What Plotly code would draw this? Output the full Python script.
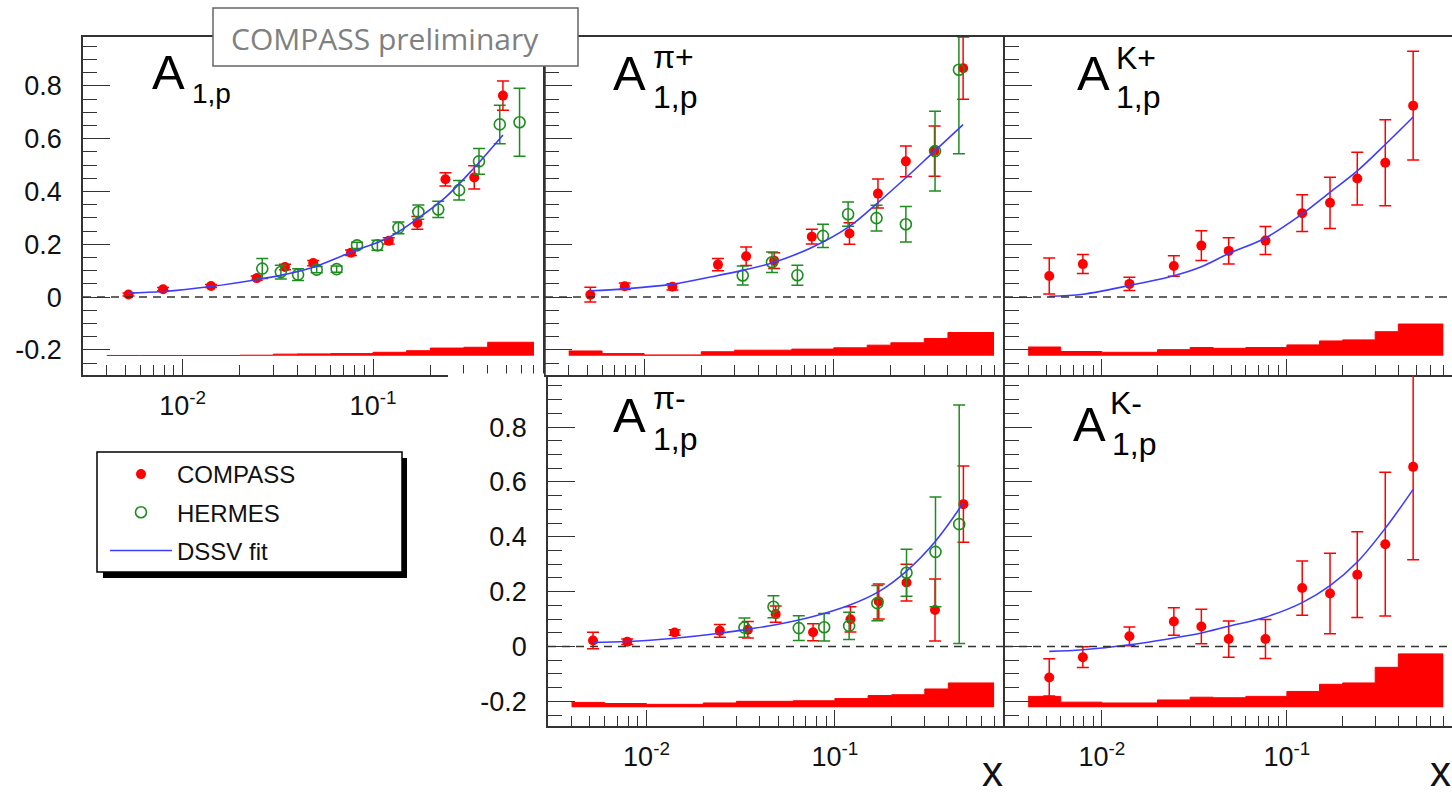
import plotly.graph_objects as go

# ---------------- data ----------------
compass_x = [0.0052, 0.0079, 0.0141, 0.0245, 0.0345, 0.0485, 0.0766, 0.121, 0.171, 0.240, 0.340, 0.481]
syst_edges = [0.004, 0.006, 0.01, 0.02, 0.03, 0.04, 0.06, 0.1, 0.15, 0.2, 0.3, 0.4, 0.7]
syst_base = -0.222

hermes_x_incl = [0.0262, 0.0328, 0.0404, 0.0506, 0.0644, 0.0824, 0.1054, 0.136, 0.173, 0.220, 0.283, 0.360, 0.463, 0.588]
hermes_x_semi = [0.0331, 0.0472, 0.0643, 0.0877, 0.119, 0.168, 0.240, 0.342, 0.457]

# A1,p
a1p_compass_y = [0.010, 0.030, 0.042, 0.072, 0.114, 0.129, 0.168, 0.213, 0.281, 0.446, 0.453, 0.763]
a1p_compass_err = [0.006, 0.006, 0.006, 0.008, 0.010, 0.010, 0.010, 0.012, 0.024, 0.025, 0.044, 0.055]
a1p_hermes_y = [0.108, 0.095, 0.085, 0.104, 0.106, 0.196, 0.196, 0.262, 0.322, 0.332, 0.405, 0.514, 0.654, 0.662]
a1p_hermes_err = [0.038, 0.026, 0.022, 0.012, 0.012, 0.012, 0.019, 0.022, 0.027, 0.031, 0.037, 0.049, 0.073, 0.129]
a1p_dssv = [0.015, 0.021, 0.040, 0.066, 0.086, 0.113, 0.170, 0.226, 0.297, 0.378, 0.490, 0.614]
a1p_syst = [-0.221, -0.221, -0.221, -0.220, -0.216, -0.215, -0.214, -0.209, -0.203, -0.193, -0.190, -0.171]

# A1,p pi+
pip_compass_y = [0.009, 0.041, 0.039, 0.123, 0.155, 0.138, 0.229, 0.241, 0.392, 0.514, 0.553, 0.867]
pip_compass_err = [0.028, 0.012, 0.012, 0.023, 0.035, 0.030, 0.028, 0.041, 0.055, 0.058, 0.095, 0.118]
pip_hermes_y = [0.082, 0.132, 0.083, 0.232, 0.314, 0.299, 0.276, 0.553, 0.861]
pip_hermes_err = [0.036, 0.039, 0.038, 0.044, 0.046, 0.049, 0.067, 0.151, 0.318]
pip_dssv = [0.024, 0.031, 0.049, 0.082, 0.104, 0.132, 0.188, 0.268, 0.358, 0.452, 0.553, 0.653]
pip_syst = [-0.204, -0.214, -0.219, -0.207, -0.201, -0.201, -0.197, -0.192, -0.182, -0.173, -0.157, -0.134]

# A1,p K+
kp_compass_y = [0.080, 0.125, 0.050, 0.118, 0.195, 0.175, 0.214, 0.318, 0.357, 0.449, 0.509, 0.725]
kp_compass_err = [0.068, 0.036, 0.025, 0.039, 0.056, 0.050, 0.053, 0.070, 0.097, 0.100, 0.163, 0.206]
kp_dssv = [0.003, 0.011, 0.044, 0.081, 0.115, 0.165, 0.224, 0.315, 0.397, 0.478, 0.578, 0.682]
kp_syst = [-0.189, -0.206, -0.209, -0.199, -0.191, -0.194, -0.191, -0.181, -0.166, -0.162, -0.131, -0.102]

# A1,p pi-
pim_compass_y = [0.022, 0.017, 0.051, 0.057, 0.061, 0.118, 0.052, 0.099, 0.164, 0.233, 0.133, 0.519]
pim_compass_err = [0.030, 0.010, 0.010, 0.023, 0.030, 0.030, 0.031, 0.046, 0.064, 0.067, 0.113, 0.139]
pim_hermes_y = [0.069, 0.145, 0.067, 0.070, 0.075, 0.158, 0.269, 0.345, 0.446]
pim_hermes_err = [0.035, 0.040, 0.045, 0.050, 0.050, 0.064, 0.086, 0.200, 0.435]
pim_dssv = [0.015, 0.018, 0.030, 0.048, 0.063, 0.079, 0.109, 0.152, 0.200, 0.275, 0.382, 0.524]
pim_syst = [-0.204, -0.208, -0.211, -0.206, -0.200, -0.200, -0.198, -0.190, -0.179, -0.176, -0.155, -0.133]

# A1,p K-
km_compass_y = [-0.113, -0.039, 0.037, 0.091, 0.073, 0.027, 0.027, 0.213, 0.193, 0.262, 0.373, 0.655]
km_compass_err = [0.068, 0.038, 0.034, 0.050, 0.063, 0.066, 0.071, 0.099, 0.147, 0.156, 0.262, 0.339]
km_dssv = [-0.018, -0.012, 0.006, 0.031, 0.049, 0.074, 0.107, 0.160, 0.222, 0.308, 0.431, 0.573]
km_syst = [-0.182, -0.203, -0.206, -0.195, -0.185, -0.187, -0.182, -0.164, -0.138, -0.133, -0.076, -0.027]

ytick_vals = [-0.2, 0, 0.2, 0.4, 0.6, 0.8]
ytick_text = ["-0.2", "0", "0.2", "0.4", "0.6", "0.8"]
xtick_vals = [0.01, 0.1]
xtick_text = ["10<sup>-2</sup>", "10<sup>-1</sup>"]
xminor_vals = [0.004, 0.005, 0.006, 0.007, 0.008, 0.009,
               0.02, 0.03, 0.04, 0.05, 0.06, 0.07, 0.08, 0.09,
               0.2, 0.3, 0.4, 0.5, 0.6, 0.7]

# ---------------- layout helpers ----------------
W, H = 1452, 797
def fx(p):
    return p / W
def fy(p):
    return 1 - p / H

RED = "#ff0000"
GREEN = "#1f8c1f"
BLUE = "rgb(60,60,255)"
FRAME = "#333333"
FONT = "Liberation Sans, Arial, sans-serif"

panels = [
    dict(ax="", xd=(83, 545), yd=(37, 375), xr=(-2.523, -0.097), yr=(-0.295, 0.985),
         cy=a1p_compass_y, ce=a1p_compass_err, hx=hermes_x_incl, hy=a1p_hermes_y, he=a1p_hermes_err,
         d=a1p_dssv, s=a1p_syst, xl=True, yl=True, top=True),
    dict(ax="2", xd=(545, 1005), yd=(37, 375), xr=(-2.523, -0.097), yr=(-0.295, 0.985),
         cy=pip_compass_y, ce=pip_compass_err, hx=hermes_x_semi, hy=pip_hermes_y, he=pip_hermes_err,
         d=pip_dssv, s=pip_syst, xl=False, yl=False, top=True),
    dict(ax="3", xd=(1005, 1452), yd=(37, 375), xr=(-2.523, -0.108), yr=(-0.295, 0.985),
         cy=kp_compass_y, ce=kp_compass_err, hx=None, hy=None, he=None,
         d=kp_dssv, s=kp_syst, xl=False, yl=False, top=True),
    dict(ax="4", xd=(548, 1005), yd=(375, 726), xr=(-2.523, -0.097), yr=(-0.29, 0.99),
         cy=pim_compass_y, ce=pim_compass_err, hx=hermes_x_semi, hy=pim_hermes_y, he=pim_hermes_err,
         d=pim_dssv, s=pim_syst, xl=True, yl=True, top=False),
    dict(ax="5", xd=(1005, 1452), yd=(375, 726), xr=(-2.523, -0.108), yr=(-0.29, 0.99),
         cy=km_compass_y, ce=km_compass_err, hx=None, hy=None, he=None,
         d=km_dssv, s=km_syst, xl=True, yl=False, top=False),
]

fig = go.Figure()
shapes = []
annotations = []
layout = {}

for i, p in enumerate(panels):
    a = p["ax"]
    xa, ya = "x" + a, "y" + a
    first = (i == 0)
    # systematic band: base + step top
    fig.add_trace(go.Scatter(x=[syst_edges[0], syst_edges[-1]], y=[syst_base, syst_base],
                             mode="lines", line=dict(width=0, color=RED), showlegend=False,
                             hoverinfo="skip", xaxis=xa, yaxis=ya))
    fig.add_trace(go.Scatter(x=syst_edges, y=p["s"] + [p["s"][-1]], mode="lines",
                             line=dict(width=1, color=RED, shape="hv"), fill="tonexty",
                             fillcolor=RED, showlegend=False, hoverinfo="skip", xaxis=xa, yaxis=ya))
    # COMPASS
    fig.add_trace(go.Scatter(x=compass_x, y=p["cy"], mode="markers", name="COMPASS",
                             marker=dict(color=RED, size=10, symbol="circle"),
                             error_y=dict(type="data", array=p["ce"], color=RED, thickness=1.5, width=6),
                             showlegend=first, legendgroup="compass", legendrank=1,
                             xaxis=xa, yaxis=ya))
    # HERMES
    if p["hx"] is not None:
        fig.add_trace(go.Scatter(x=p["hx"], y=p["hy"], mode="markers", name="HERMES",
                                 marker=dict(color=GREEN, size=11, symbol="circle-open",
                                             line=dict(width=1.6, color=GREEN)),
                                 error_y=dict(type="data", array=p["he"], color=GREEN, thickness=1.5, width=6),
                                 showlegend=first, legendgroup="hermes", legendrank=2,
                                 xaxis=xa, yaxis=ya))
    # DSSV fit
    fig.add_trace(go.Scatter(x=compass_x, y=p["d"], mode="lines", name="DSSV fit",
                             line=dict(color=BLUE, width=1.6, shape="spline", smoothing=1.0),
                             showlegend=first, legendgroup="dssv", legendrank=3,
                             xaxis=xa, yaxis=ya))

    xkey = "xaxis" + a
    ykey = "yaxis" + a
    layout[xkey] = dict(
        type="log", domain=[fx(p["xd"][0]), fx(p["xd"][1])], range=list(p["xr"]),
        anchor=ya, showgrid=False, zeroline=False,
        showline=True, linecolor=FRAME, linewidth=1.5, mirror=p["top"],
        ticks="inside", ticklen=16, tickwidth=1.3, tickcolor=FRAME,
        tickmode="array", tickvals=xtick_vals, ticktext=xtick_text,
        showticklabels=p["xl"], tickfont=dict(family=FONT, size=27, color="#111"),
        ticklabelstandoff=6,
        minor=dict(tickmode="array", tickvals=xminor_vals, ticks="inside", ticklen=10,
                   tickwidth=1.3, tickcolor=FRAME, showgrid=False),
    )
    layout[ykey] = dict(
        domain=[fy(p["yd"][1]), fy(p["yd"][0])], range=list(p["yr"]),
        anchor=xa, showgrid=False, zeroline=False,
        showline=True, linecolor=FRAME, linewidth=1.5, mirror=False,
        ticks="inside", ticklen=27, tickwidth=1.3, tickcolor=FRAME,
        tickmode="array", tickvals=ytick_vals, ticktext=ytick_text,
        showticklabels=p["yl"], tickfont=dict(family=FONT, size=27, color="#111"),
        ticklabelstandoff=14,
        minor=dict(tick0=0, dtick=0.05, ticks="inside", ticklen=14, tickwidth=1.3,
                   tickcolor=FRAME, showgrid=False),
    )
    # dashed zero line
    shapes.append(dict(type="line", xref=xa + " domain", yref=ya, x0=0, x1=1, y0=0, y1=0,
                       line=dict(color=FRAME, width=1.5, dash="8px,6px"), layer="above"))

# right frame of the A1,p pad (the pi+ pad's left frame covers the rest)
shapes.append(dict(type="line", xref="paper", yref="paper", x0=fx(545), x1=fx(545),
                   y0=fy(375), y1=fy(37), line=dict(color=FRAME, width=1.5), layer="above"))
# hide the part of panel-1 bottom frame covered by the pi- pad
shapes.append(dict(type="rect", xref="paper", yref="paper", x0=fx(448), x1=fx(544),
                   y0=fy(377), y1=fy(373.5), fillcolor="white", line=dict(width=0), layer="above"))

# COMPASS preliminary box
shapes.append(dict(type="rect", xref="paper", yref="paper", x0=fx(213), x1=fx(578),
                   y0=fy(66), y1=fy(8), fillcolor="white", line=dict(color="#666666", width=1.5),
                   layer="above"))
annotations.append(dict(text="COMPASS preliminary", xref="paper", yref="paper",
                        x=fx(385), y=fy(38), xanchor="center", yanchor="middle", showarrow=False,
                        font=dict(family="Open Sans", size=30, color="#808080")))

# legend box with shadow
shapes.append(dict(type="rect", xref="paper", yref="paper", x0=fx(103), x1=fx(407),
                   y0=fy(578), y1=fy(458), fillcolor="black", line=dict(width=0), layer="above"))
shapes.append(dict(type="rect", xref="paper", yref="paper", x0=fx(97), x1=fx(402),
                   y0=fy(572), y1=fy(452), fillcolor="white", line=dict(color="black", width=1.5),
                   layer="above"))

# panel titles
def title(x_a, y_a, sup, x_s, y_sup, x_sub, y_sub, sub_size=32):
    annotations.append(dict(text="A", xref="paper", yref="paper", x=fx(x_a), y=fy(y_a),
                            xanchor="left", yanchor="middle", showarrow=False,
                            font=dict(family=FONT, size=49, color="black")))
    if sup:
        annotations.append(dict(text=sup, xref="paper", yref="paper", x=fx(x_s), y=fy(y_sup),
                                xanchor="left", yanchor="middle", showarrow=False,
                                font=dict(family=FONT, size=32, color="black")))
    annotations.append(dict(text="1,p", xref="paper", yref="paper", x=fx(x_sub), y=fy(y_sub),
                            xanchor="left", yanchor="middle", showarrow=False,
                            font=dict(family=FONT, size=sub_size, color="black")))

title(150, 72, None, 0, 0, 190, 94, sub_size=28)
title(611, 73, "π+", 651, 57, 651, 97)
title(1075, 73, "K+", 1114, 58, 1114, 97)
title(611, 415, "π-", 651, 398, 651, 439)
title(1071, 424, "K-", 1108, 403, 1110, 444)

# x axis titles
for xpos in (992, 1440):
    annotations.append(dict(text="x", xref="paper", yref="paper", x=fx(xpos), y=0,
                            xanchor="center", yanchor="bottom", showarrow=False,
                            font=dict(family=FONT, size=42, color="#111")))

layout.update(dict(
    width=W, height=H, autosize=False,
    margin=dict(l=0, r=0, t=0, b=0),
    paper_bgcolor="white", plot_bgcolor="white",
    shapes=shapes, annotations=annotations,
    showlegend=True,
    legend=dict(x=fx(105), y=fy(452), xanchor="left", yanchor="top",
                bgcolor="rgba(0,0,0,0)", borderwidth=0,
                font=dict(family=FONT, size=24, color="#111"),
                itemwidth=62, tracegroupgap=4, traceorder="grouped"),
))
fig.update_layout(**layout)

fig.write_html("out.html", include_plotlyjs=True, full_html=True, config={"displayModeBar": False})
